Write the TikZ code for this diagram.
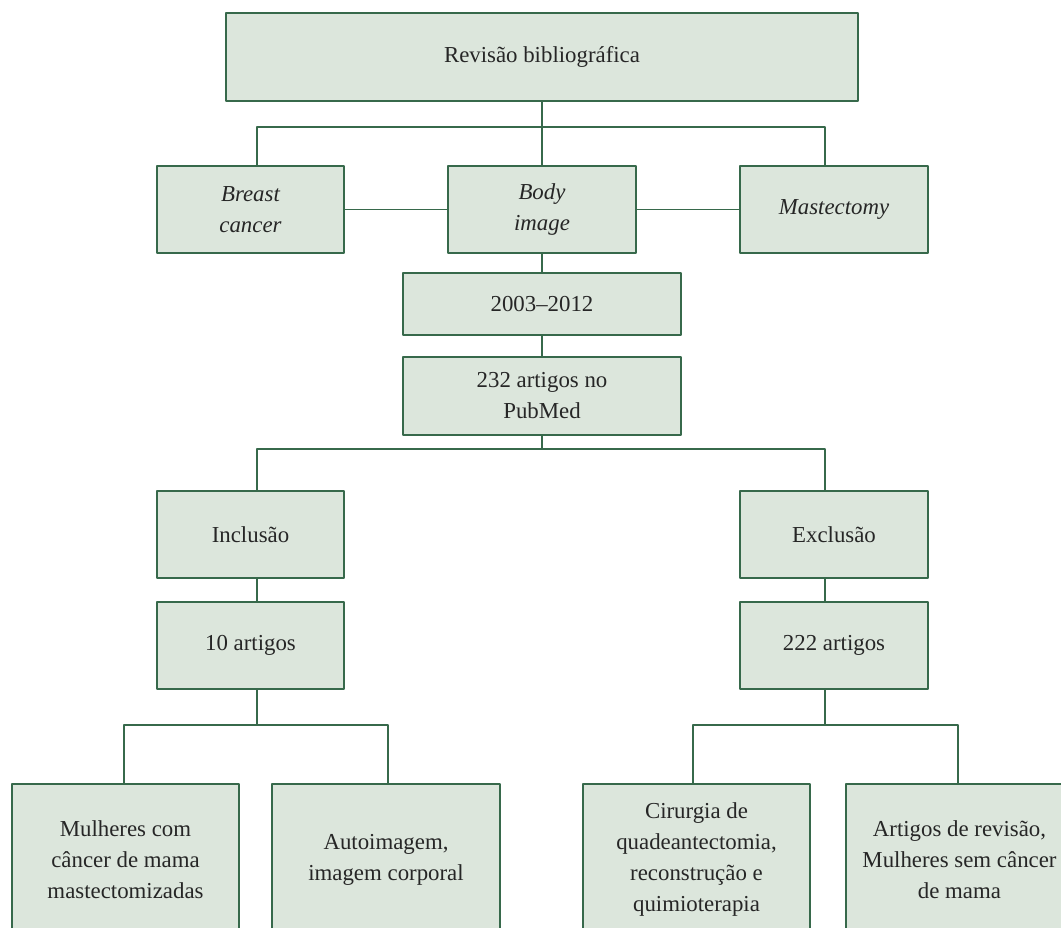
\documentclass[tikz,border=0pt]{standalone}
\usepackage{fontspec}
\setmainfont{Liberation Serif}
\definecolor{caixafundo}{RGB}{220,230,220}
\definecolor{caixalinha}{RGB}{55,105,75}
\begin{document}
\begin{tikzpicture}[x=0.02cm,y=-0.02cm,line join=round,line cap=round]
	\tikzset{every node/.style={font=\fontsize{13}{17.6}\selectfont,text=black!85},
		caixa/.style={draw=caixalinha,fill=caixafundo,line width=1.1pt,inner sep=0pt,align=center},
		ligacao/.style={draw=caixalinha,line width=1pt}}
	\useasboundingbox (0,0) rectangle (1061,928);
	\clip (0,0) rectangle (1061,928);
	% caixas
	\node[caixa,minimum width=12.64cm,minimum height=1.76cm] (rev) at (542,57) {Revisão bibliográfica};
	\node[caixa,minimum width=3.75cm,minimum height=1.74cm] (breast) at (250.5,209.5) {\itshape Breast\\\itshape cancer};
	\node[caixa,minimum width=3.75cm,minimum height=1.74cm] (body) at (542,209.5) {\itshape Body\\\itshape image};
	\node[caixa,minimum width=3.75cm,minimum height=1.74cm] (mast) at (834,209.5) {\itshape Mastectomy};
	\node[caixa,minimum width=5.56cm,minimum height=1.24cm] (anos) at (542,304) {2003--2012};
	\node[caixa,minimum width=5.56cm,minimum height=1.56cm] (pub) at (542,396) {232 artigos no\\PubMed};
	\node[caixa,minimum width=3.75cm,minimum height=1.74cm] (incl) at (250.5,534.5) {Inclusão};
	\node[caixa,minimum width=3.75cm,minimum height=1.74cm] (excl) at (834,534.5) {Exclusão};
	\node[caixa,minimum width=3.75cm,minimum height=1.74cm] (art10) at (250.5,645.5) {10 artigos};
	\node[caixa,minimum width=3.75cm,minimum height=1.74cm] (art222) at (834,645.5) {222 artigos};
	\node[caixa,minimum width=4.54cm,minimum height=3.02cm] (mulh) at (125.5,859.5) {Mulheres com\\câncer de mama\\mastectomizadas};
	\node[caixa,minimum width=4.56cm,minimum height=3.02cm] (auto) at (386,859.5) {Autoimagem,\\imagem corporal};
	\node[caixa,minimum width=4.54cm,minimum height=3.02cm] (cir) at (696.5,859.5) {Cirurgia de\\quadeantectomia,\\reconstrução e\\quimioterapia};
	\node[caixa,minimum width=4.54cm,minimum height=3.02cm] (rev2) at (959.5,859.5) {Artigos de revisão,\\Mulheres sem câncer\\de mama};
	% ligacoes
	\coordinate (c1) at (257,127);
	\coordinate (c2) at (825,127);
	\coordinate (c3) at (257,449);
	\coordinate (c4) at (825,449);
	\coordinate (c5) at (124,725);
	\coordinate (c6) at (388,725);
	\coordinate (c7) at (693,725);
	\coordinate (c8) at (958,725);
	\draw[ligacao] (rev) -- (body);
	\draw[ligacao] (c1 |- breast.north) -- (c1) -- (c2) -- (c2 |- mast.north);
	\draw[ligacao] (breast) -- (body) -- (mast);
	\draw[ligacao] (body) -- (anos) -- (pub);
	\draw[ligacao] (pub.south) -- (pub.south |- c3);
	\draw[ligacao] (c3 |- incl.north) -- (c3) -- (c4) -- (c4 |- excl.north);
	\draw[ligacao] (c3 |- incl.south) -- (c3 |- art10.north);
	\draw[ligacao] (c4 |- excl.south) -- (c4 |- art222.north);
	\draw[ligacao] (c3 |- art10.south) -- (c3 |- c5);
	\draw[ligacao] (c4 |- art222.south) -- (c4 |- c7);
	\draw[ligacao] (c5 |- mulh.north) -- (c5) -- (c6) -- (c6 |- auto.north);
	\draw[ligacao] (c7 |- cir.north) -- (c7) -- (c8) -- (c8 |- rev2.north);
\end{tikzpicture}
\end{document}
